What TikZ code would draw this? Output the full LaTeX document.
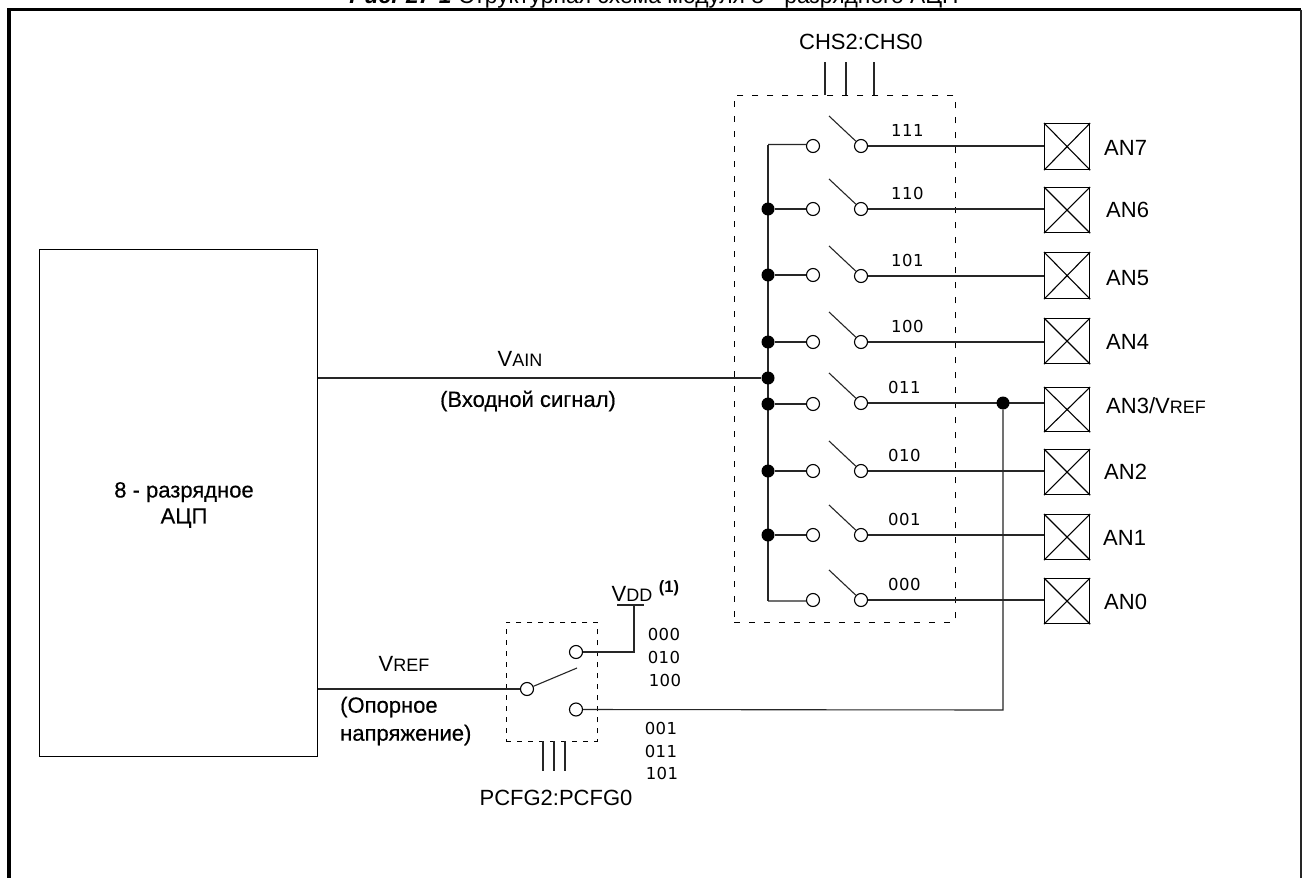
\documentclass[tikz,border=0pt]{standalone}
\usepackage{fontspec}
\setmainfont{Liberation Sans}
\newfontfamily\bitfont[LetterSpace=3]{DejaVu Sans}
\newfontfamily\heavyfont[FakeBold=0.4]{Liberation Sans}
\tikzset{
  wire/.style={line width=1.1pt,black!85},
  frameline/.style={line width=3.5pt,black},
  dashbox/.style={line width=0.9pt,dash pattern=on 6pt off 9pt},
  dashsel/.style={line width=0.9pt,dash pattern=on 5pt off 6pt},
  openc/.style={circle,draw,line width=1.1pt,fill=white,minimum size=13pt,inner sep=0pt},
  dotc/.style={circle,fill=black,minimum size=13pt,inner sep=0pt},
  padbox/.style={rectangle,draw,line width=1.2pt,inner sep=0pt,minimum width=45pt},
  lab/.style={inner sep=0pt,anchor=west,font=\fontsize{22}{26}\selectfont},
  txt/.style={inner sep=0pt,font=\fontsize{22}{26}\selectfont},
  heavytxt/.style={inner sep=0pt,font=\fontsize{22}{26}\heavyfont},
  bits/.style={inner sep=0pt,font=\fontsize{16.5}{18}\bitfont},
}
\newcommand{\smc}[1]{{\fontsize{18}{20}\selectfont #1}}
\begin{document}
\begin{tikzpicture}[x=1pt,y=-1pt]
\useasboundingbox (0,0) rectangle (1302,878);
\fill[white] (0,0) rectangle (1302,878);
\begin{scope}
\clip (0,0) rectangle (1302,878);
\node[inner sep=0pt,anchor=base] (title) at (654,4) {\fontsize{22.8}{26}\selectfont\textbf{\textit{Рис. 27-1}} Структурная схема модуля 8 - разрядного АЦП};
\end{scope}
% frame
\coordinate (fbl) at (9,878);
\coordinate (ftl) at (9,9.5);
\coordinate (ftr) at (1301,9.5);
\coordinate (fbr) at (1301,878);
\draw[frameline] (fbl) -- (ftl) -- (ftr);
\draw[line width=1.5pt,black!85] (ftr) -- (fbr);
% ADC
\node[rectangle,draw,line width=1.2pt,minimum width=278pt,minimum height=507pt,inner sep=0pt,anchor=north west] (adc) at (39,249) {};
\node[heavytxt,align=center] (adcl) at (184,505) {8 - разрядное\\АЦП};
% dashed boxes
\node[rectangle,draw,dashbox,minimum width=221pt,minimum height=527pt,inner sep=0pt,anchor=north west] (mux) at (734,95) {};
\node[rectangle,draw,dashsel,minimum width=91pt,minimum height=119pt,inner sep=0pt,anchor=north west] (sel) at (506,622) {};
% control lines
\foreach \n/\x in {a/825,b/846,c/874}{
  \coordinate (ct\n) at (\x,62); \coordinate (cb\n) at (\x,95);
  \draw[wire] (ct\n) -- (cb\n);
}
\node[txt,anchor=west] (chs) at (799,42) {CHS2:CHS0};
\foreach \n/\x in {a/543,b/554,c/565}{
  \coordinate (pt\n) at (\x,741); \coordinate (pb\n) at (\x,771);
  \draw[wire] (pt\n) -- (pb\n);
}
\node[txt] (pcfg) at (556,798) {PCFG2:PCFG0};
% bus
\coordinate (bustop) at (768,144.5);
\coordinate (busbot) at (768,601);
\draw[wire] (bustop) -- (busbot);
% rows
\foreach \n/\y/\by/\bh/\cy/\name/\bit/\lx/\ly/\bx in {%
 7/146/123/46/146/AN7/111/1104/148/891,
 6/209/187/45/209/AN6/110/1106/210/891,
 5/276/252/46/275/AN5/101/1106/278/891,
 4/342/318/45/342/AN4/100/1106/342/891,
 3/403/387/44/404/{AN3/V\smc{REF}}/011/1106/406/888,
 2/471/449/45/471/AN2/010/1104/472/888,
 1/535/514/45/535/AN1/001/1103/538/888,
 0/600/578/45/600/AN0/000/1104/602/888}{
  \node[padbox,minimum height=\bh pt,anchor=north west] (p\n) at (1044,\by) {};
  \draw[line width=1.1pt] (p\n.north west) -- (p\n.south east) (p\n.north east) -- (p\n.south west);
  \node[openc] (l\n) at (813,\cy) {};
  \node[openc] (r\n) at (861,\y) {};
  \coordinate (arm\n) at (829,\y-30);
  \draw[wire] (arm\n) -- (r\n);
  \draw[wire] (r\n) -- (p\n.west |- r\n);
  \node[bits,anchor=base west] (b\n) at (\bx,\y-10) {\bit};
  \node[lab] (t\n) at (\lx,\ly) {\name};
}
% left contact stubs
\draw[wire] (bustop) -- (l7.west |- bustop) -- (l7);
\draw[wire] (busbot) -- (l0.west |- busbot) -- (l0);
\foreach \n/\y in {6/209,5/275,4/342,3/404,2/471,1/535}{
  \node[dotc] (d\n) at (768,\y) {};
  \draw[wire] (d\n) -- (l\n);
}
% Vain
\node[dotc] (dv) at (768,378) {};
\draw[wire] (adc.east |- dv) -- (dv);
\node[txt] (vain) at (520,359) {V\smc{AIN}};
\node[heavytxt] (vainl) at (528,401) {(Входной сигнал)};
% Vref selector
\node[openc] (sc) at (527,689) {};
\node[openc] (st) at (576,652) {};
\node[openc] (sb) at (576,709.5) {};
\coordinate (sarm) at (577,668);
\draw[wire] (sc) -- (sarm);
\draw[wire] (adc.east |- sc) -- (sc);
\coordinate (vddj) at (634,652);
\coordinate (vddt) at (634,605);
\coordinate (vddl) at (617,605);
\coordinate (vddr) at (644,605);
\draw[wire] (st) -- (vddj) -- (vddt);
\draw[wire] (vddl) -- (vddr);
\node[txt] (vdd) at (632,594) {V\smc{DD}};
\node[inner sep=0pt,font=\fontsize{16.5}{18}\selectfont\bfseries] (one) at (669,588) {(1)};
\node[dotc] (dr) at (1003,403) {};
\coordinate (vrefc) at (1003,710);
\draw[wire] (sb) -- (vrefc) -- (dr);
\draw[wire] (dr) -- (p3.west |- dr);
\node[txt] (vref) at (404,664) {V\smc{REF}};
\node[heavytxt,anchor=west,align=left,font=\fontsize{22}{28}\heavyfont] (vrefl) at (340,721) {(Опорное\\напряжение)};
% selector bits
\node[bits] (s1) at (664,634) {000};
\node[bits] (s2) at (664,657) {010};
\node[bits] (s3) at (665,680) {100};
\node[bits] (s4) at (661,728) {001};
\node[bits] (s5) at (661,751) {011};
\node[bits] (s6) at (662,773) {101};
\end{tikzpicture}
\end{document}
